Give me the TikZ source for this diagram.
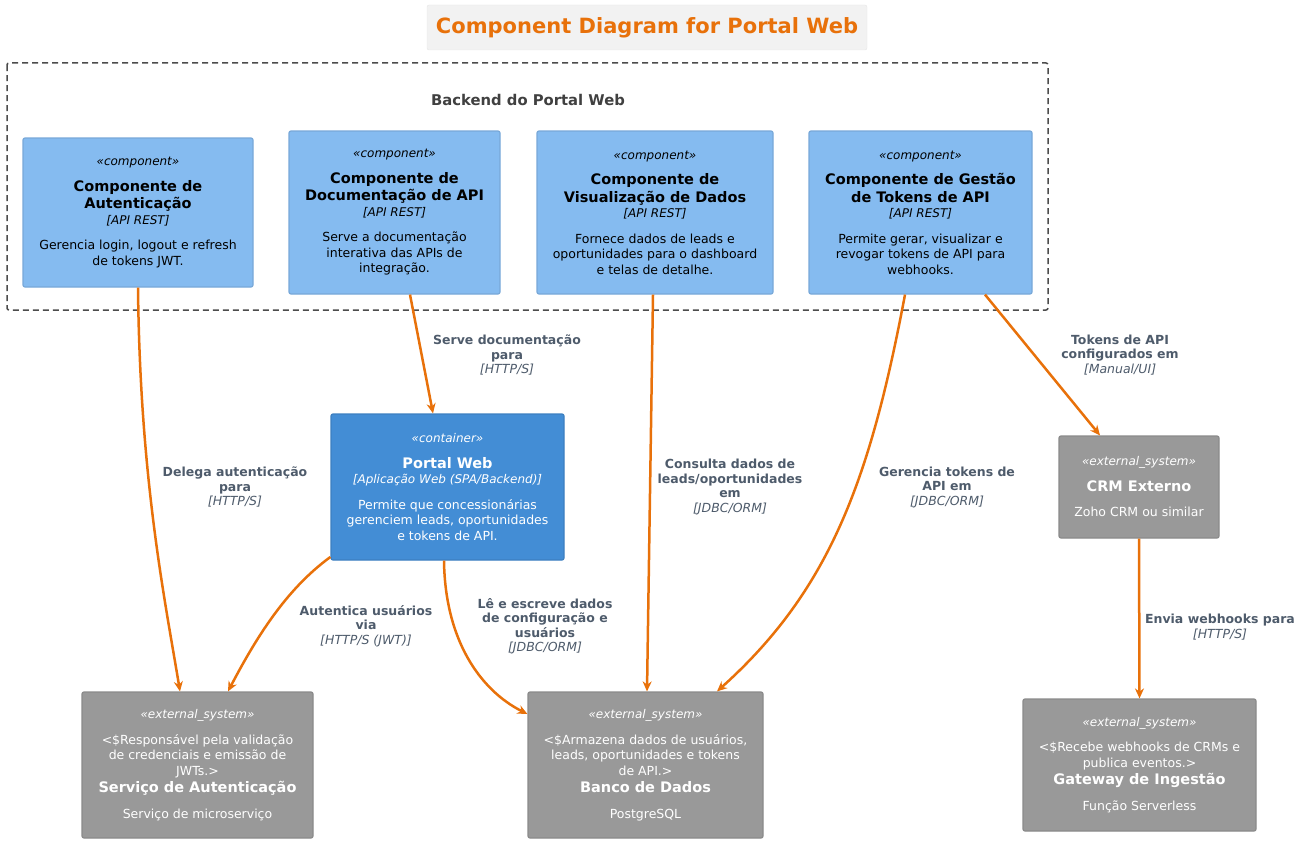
\documentclass[tikz,border=0pt]{standalone}
\usepackage{fontspec}
\setmainfont{DejaVu Sans}
\usetikzlibrary{arrows.meta}
\definecolor{comp}{HTML}{85BBF0}\definecolor{compb}{HTML}{78A8D8}
\definecolor{cont}{HTML}{438DD5}\definecolor{contb}{HTML}{3C7FC0}
\definecolor{ext}{HTML}{999999}\definecolor{extb}{HTML}{8A8A8A}
\definecolor{arr}{HTML}{E8710A}\definecolor{lbl}{HTML}{4E5B6B}
\tikzset{
 box/.style={rounded corners=2pt,line width=1.2pt,inner sep=0pt,align=center},
 cbox/.style={box,fill=comp,draw=compb,text=black},
 kbox/.style={box,fill=cont,draw=contb,text=white},
 ebox/.style={box,fill=ext,draw=extb,text=white},
 nt/.style={align=center,font=\fontsize{12.5}{15.5}\selectfont},
 ar/.style={draw=arr,line width=2.5pt,-{Stealth[length=10pt,width=9pt]}},
 lb/.style={text=lbl,align=center,font=\fontsize{12.5}{14.5}\selectfont}
}
\newcommand{\cst}{\fontsize{12}{15}\selectfont\itshape\mdseries}
\newcommand{\ctt}{\fontsize{14.5}{16.5}\selectfont\bfseries\upshape}
\newcommand{\cbd}{\fontsize{12.5}{15}\selectfont\mdseries\upshape}
\newcommand{\ttl}{\fontsize{12.5}{14.5}\selectfont\bfseries}
\newcommand{\tch}{\fontsize{12.5}{14.5}\selectfont\itshape\mdseries}
\begin{document}
\begin{tikzpicture}[x=1pt,y=-1pt]
\useasboundingbox (0,0) rectangle (1308,843);
% title
\node[draw=black!10,fill=black!5,rounded corners=2pt,minimum width=440,minimum height=45] (title) at (647,27.5) {};
\node[text=arr,font=\fontsize{21}{24}\selectfont\bfseries] (titletext) at (title) {Component Diagram for Portal Web};
% boundary
\draw[line width=1.5pt,draw=black!70,rounded corners=2pt,dash pattern=on 6pt off 4pt] (7,63) rectangle (1048,310);
\node[text=black!75,font=\fontsize{14.8}{17}\selectfont\bfseries] (bl) at (528,100) {Backend do Portal Web};
% components
\node[cbox,minimum width=230,minimum height=149] (auth) at (138,212.5) {};
\node[nt] (authT) at (auth) {\cst «component»\\[10pt]\ctt Componente de\\[2pt]\ctt Autenticação\\\cst [API REST]\\[10pt]\cbd Gerencia login, logout e refresh\\\cbd de tokens JWT.};
\node[cbox,minimum width=211,minimum height=163] (doc) at (394.5,212.5) {};
\node[nt] (docT) at (doc) {\cst «component»\\[10pt]\ctt Componente de\\[2pt]\ctt Documentação de API\\\cst [API REST]\\[10pt]\cbd Serve a documentação\\\cbd interativa das APIs de\\\cbd integração.};
\node[cbox,minimum width=236,minimum height=163] (vis) at (655,212.5) {};
\node[nt] (visT) at (vis) {\cst «component»\\[10pt]\ctt Componente de\\[2pt]\ctt Visualização de Dados\\\cst [API REST]\\[10pt]\cbd Fornece dados de leads e\\\cbd oportunidades para o dashboard\\\cbd e telas de detalhe.};
\node[cbox,minimum width=223,minimum height=163] (tok) at (920.5,212.5) {};
\node[nt] (tokT) at (tok) {\cst «component»\\[10pt]\ctt Componente de Gestão\\[2pt]\ctt de Tokens de API\\\cst [API REST]\\[10pt]\cbd Permite gerar, visualizar e\\\cbd revogar tokens de API para\\\cbd webhooks.};
% container
\node[kbox,minimum width=233,minimum height=146] (pw) at (447.5,487) {};
\node[nt,text=white] (pwT) at (pw) {\cst «container»\\[10pt]\ctt Portal Web\\\cst [Aplicação Web (SPA/Backend)]\\[10pt]\cbd Permite que concessionárias\\\cbd gerenciem leads, oportunidades\\\cbd e tokens de API.};
% externals
\node[ebox,minimum width=231,minimum height=146] (sa) at (197.5,765) {};
\node[nt,text=white] (saT) at (sa) {\cst «external\_system»\\[10pt]\cbd <\$Responsável pela validação\\\cbd de credenciais e emissão de\\\cbd JWTs.>\\[2pt]\ctt Serviço de Autenticação\\[10pt]\cbd Serviço de microserviço};
\node[ebox,minimum width=235,minimum height=146] (db) at (645.5,765) {};
\node[nt,text=white] (dbT) at (db) {\cst «external\_system»\\[10pt]\cbd <\$Armazena dados de usuários,\\\cbd leads, oportunidades e tokens\\\cbd de API.>\\[2pt]\ctt Banco de Dados\\[10pt]\cbd PostgreSQL};
\node[ebox,minimum width=160,minimum height=102] (crm) at (1139,487) {};
\node[nt,text=white] (crmT) at (crm) {\cst «external\_system»\\[10pt]\ctt CRM Externo\\[10pt]\cbd Zoho CRM ou similar};
\node[ebox,minimum width=233,minimum height=132] (gw) at (1139.5,765) {};
\node[nt,text=white] (gwT) at (gw) {\cst «external\_system»\\[10pt]\cbd <\$Recebe webhooks de CRMs e\\\cbd publica eventos.>\\[2pt]\ctt Gateway de Ingestão\\[10pt]\cbd Função Serverless};
% connectors
\draw[ar] (auth.south) .. controls (140,480) and (165,600) .. (sa.north -| 180,0);
\node[lb] (l1) at (235,487) {\ttl Delega autenticação\\\ttl para\\\tch [HTTP/S]};
\draw[ar] (doc.south -| 410,0) -- (pw.north -| 433,0);
\node[lb] (l2) at (507,355) {\ttl Serve documentação\\\ttl para\\\tch [HTTP/S]};
\draw[ar] (vis.south -| 653,0) -- (db.north -| 647,0);
\node[lb] (l3) at (730,487) {\ttl Consulta dados de\\\ttl leads/oportunidades\\\ttl em\\\tch [JDBC/ORM]};
\draw[ar] (tok.south -| 905,0) .. controls (870,480) and (830,590) .. (db.north -| 717,0);
\node[lb] (l4) at (947,487) {\ttl Gerencia tokens de\\\ttl API em\\\tch [JDBC/ORM]};
\draw[ar] (tok.south -| 985,0) -- (crm.north -| 1100,0);
\node[lb] (l5) at (1120,355) {\ttl Tokens de API\\\ttl configurados em\\\tch [Manual/UI]};
\draw[ar] (crm.south) -- (gw.north);
\node[lb] (l6) at (1220,627) {\ttl Envia webhooks para\\\tch [HTTP/S]};
\draw[ar] (pw.south west |- 0,557) .. controls (285,590) and (255,640) .. (sa.north -| 228,0);
\node[lb] (l7) at (366,626) {\ttl Autentica usuários\\\ttl via\\\tch [HTTP/S (JWT)]};
\draw[ar] (pw.south -| 444,0) .. controls (445,640) and (480,690) .. (db.west |- 0,714);
\node[lb] (l8) at (545,626) {\ttl Lê e escreve dados\\\ttl de configuração e\\\ttl usuários\\\tch [JDBC/ORM]};
\end{tikzpicture}
\end{document}
